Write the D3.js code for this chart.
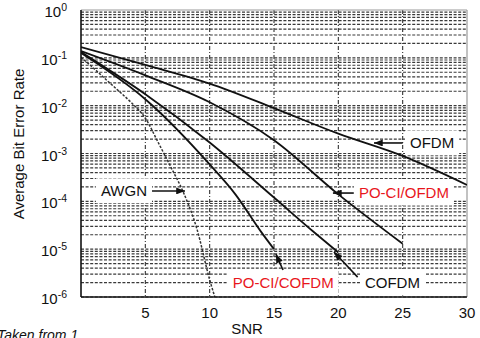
<!DOCTYPE html>
<html>
<head>
<meta charset="utf-8">
<script src="https://cdn.jsdelivr.net/npm/d3@7"></script>
<style>
  html, body { margin: 0; padding: 0; background: #fff; }
  svg { display: block; font-family: "Liberation Sans", Arial, sans-serif; }
</style>
</head>
<body>
<div id="chart"></div>
<script>
// ---- data ----
const snrOFDM = [0, 5, 10, 15, 20, 25, 30];
const berOFDM = [0.168, 0.071, 0.029, 0.0089, 0.0026, 8.9e-4, 2.2e-4];

const snrPOCIOFDM = [0, 5, 10, 15, 20, 25];
const berPOCIOFDM = [0.138, 0.043, 0.0118, 0.0019, 1.4e-4, 1.3e-5];

const snrCOFDM = [0, 5, 10, 15, 18, 20];
const berCOFDM = [0.132, 0.0174, 0.0017, 1.2e-4, 2.4e-5, 8.5e-6];

const snrPOCICOFDM = [0, 5, 10, 12, 14, 15];
const berPOCICOFDM = [0.126, 0.0136, 5.9e-4, 1.4e-4, 2.3e-5, 1.0e-5];

const snrAWGN = [0, 1, 2, 3, 4, 5, 6, 7, 8, 9, 10, 10.4];
const berAWGN = [0.103, 0.060, 0.034, 0.0195, 0.011, 0.0055, 0.0017, 5.1e-4, 1.45e-4, 2.7e-5, 2.3e-6, 1e-6];

const xTicks = [5, 10, 15, 20, 25, 30];
const yDecades = [0, -1, -2, -3, -4, -5, -6];

// annotations: text, colour, text anchor point, arrow tail, arrow tip (snr, ber)
const labels = [
  { text: "OFDM", color: "#111", anchor: "start", at: [25.57, 1.66e-3], tail: [25.0, 1.66e-3], tip: [22.77, 1.66e-3] },
  { text: "AWGN", color: "#111", anchor: "end", at: [5.13, 1.65e-4], tail: [5.52, 1.65e-4], tip: [8.08, 1.65e-4] },
  { text: "PO-CI/OFDM", color: "#e8161c", anchor: "start", at: [21.6, 1.49e-4], tail: [21.2, 1.49e-4], tip: [19.58, 1.49e-4] },
  { text: "PO-CI/COFDM", color: "#e8161c", anchor: "start", at: [11.8, 1.96e-6], tail: [15.7, 3.66e-6], tip: [15.15, 7.9e-6] },
  { text: "COFDM", color: "#111", anchor: "start", at: [22.07, 1.96e-6], tail: [21.5, 2.6e-6], tip: [19.66, 8.7e-6] }
];

const solidSeries = [
  [snrOFDM, berOFDM],
  [snrPOCIOFDM, berPOCIOFDM],
  [snrCOFDM, berCOFDM],
  [snrPOCICOFDM, berPOCICOFDM]
];

// ---- layout ----
const width = 480, height = 338;
const svg = d3.select("#chart").append("svg")
  .attr("width", width)
  .attr("height", height);

const x = d3.scaleLinear().domain([0, 30]).range([81, 467]);
const y = d3.scaleLog().domain([1e-6, 1]).range([297, 10]);

const defs = svg.append("defs");
defs.append("clipPath").attr("id", "plotclip")
  .append("rect")
  .attr("x", x(0)).attr("y", y(1))
  .attr("width", x(30) - x(0)).attr("height", y(1e-6) - y(1));
defs.append("marker")
  .attr("id", "arrow")
  .attr("viewBox", "0 0 10 8")
  .attr("refX", 10).attr("refY", 4)
  .attr("markerWidth", 10).attr("markerHeight", 7)
  .attr("markerUnits", "userSpaceOnUse")
  .attr("orient", "auto")
  .append("path")
  .attr("d", "M0,0 L10,4 L0,8 Z")
  .attr("fill", "#111");

// ---- grid ----
const grid = svg.append("g");
const minorVals = [];
for (let e = -6; e < 0; e++) {
  for (let m = 1; m <= 9; m++) minorVals.push(m * Math.pow(10, e));
}
grid.selectAll("line.h")
  .data(minorVals)
  .enter().append("line")
  .attr("class", "h")
  .attr("x1", x(0)).attr("x2", x(30))
  .attr("y1", d => y(d)).attr("y2", d => y(d))
  .attr("stroke", "#3a3a3a")
  .attr("stroke-width", 1.2)
  .attr("stroke-dasharray", "3,1.6");

grid.selectAll("line.v")
  .data(xTicks.filter(d => d < 30))
  .enter().append("line")
  .attr("class", "v")
  .attr("x1", d => x(d)).attr("x2", d => x(d))
  .attr("y1", y(1)).attr("y2", y(1e-6))
  .attr("stroke", "#333")
  .attr("stroke-width", 1.1)
  .attr("stroke-dasharray", "4,2,1,2");

// ---- frame ----
svg.append("line").attr("x1", x(0)).attr("x2", x(30)).attr("y1", y(1)).attr("y2", y(1))
  .attr("stroke", "#999").attr("stroke-width", 1.2);
svg.append("line").attr("x1", x(30)).attr("x2", x(30)).attr("y1", y(1)).attr("y2", y(1e-6))
  .attr("stroke", "#999").attr("stroke-width", 1.2);

// ---- label boxes (white) ----
const labelLayer = svg.append("g");

// ---- curves ----
const plot = svg.append("g").attr("clip-path", "url(#plotclip)");
const line = d3.line()
  .x(d => x(d[0]))
  .y(d => y(d[1]))
  .curve(d3.curveMonotoneX);

plot.selectAll("path.solid")
  .data(solidSeries.map(([s, b]) => s.map((v, i) => [v, b[i]])))
  .enter().append("path")
  .attr("class", "solid")
  .attr("d", line)
  .attr("fill", "none")
  .attr("stroke", "#111")
  .attr("stroke-width", 1.8);

plot.append("path")
  .datum(snrAWGN.map((v, i) => [v, berAWGN[i]]))
  .attr("d", line)
  .attr("fill", "none")
  .attr("stroke", "#333")
  .attr("stroke-width", 1.5)
  .attr("stroke-dasharray", "2.5,1.5");

// left and bottom axis lines
svg.append("line").attr("x1", x(0)).attr("x2", x(0)).attr("y1", y(1)).attr("y2", y(1e-6))
  .attr("stroke", "#111").attr("stroke-width", 1.6);
svg.append("line").attr("x1", x(0)).attr("x2", x(30)).attr("y1", y(1e-6)).attr("y2", y(1e-6))
  .attr("stroke", "#111").attr("stroke-width", 1.6);

// ---- annotations ----
labels.forEach(l => {
  const t = labelLayer.append("text")
    .attr("x", x(l.at[0]))
    .attr("y", y(l.at[1]))
    .attr("dy", "0.36em")
    .attr("text-anchor", l.anchor)
    .attr("font-size", 15)
    .attr("fill", l.color)
    .text(l.text);
  const bb = t.node().getBBox();
  labelLayer.insert("rect", "text")
    .attr("x", bb.x - 5).attr("y", bb.y - 4)
    .attr("width", bb.width + 10).attr("height", bb.height + 8)
    .attr("fill", "#fff");
  svg.append("line")
    .attr("x1", x(l.tail[0])).attr("y1", y(l.tail[1]))
    .attr("x2", x(l.tip[0])).attr("y2", y(l.tip[1]))
    .attr("stroke", "#111")
    .attr("stroke-width", 1.6)
    .attr("marker-end", "url(#arrow)");
});
labelLayer.raise();
labelLayer.selectAll("rect").lower();
svg.selectAll("line[marker-end]").raise();

// ---- tick labels ----
svg.append("g").selectAll("text")
  .data(xTicks)
  .enter().append("text")
  .attr("x", d => x(d))
  .attr("y", 318)
  .attr("text-anchor", "middle")
  .attr("font-size", 15)
  .attr("fill", "#111")
  .text(d => d);

const yt = svg.append("g").selectAll("text")
  .data(yDecades)
  .enter().append("text")
  .attr("x", 67)
  .attr("y", d => y(Math.pow(10, d)) + 7)
  .attr("text-anchor", "end")
  .attr("font-size", 15)
  .attr("fill", "#111");
yt.append("tspan").text("10");
yt.append("tspan")
  .attr("dy", -6)
  .attr("font-size", 10.5)
  .text(d => d);

// ---- axis titles ----
svg.append("text")
  .attr("x", 247).attr("y", 334)
  .attr("text-anchor", "middle")
  .attr("font-size", 15)
  .attr("fill", "#111")
  .text("SNR");

svg.append("text")
  .attr("transform", "translate(24,144) rotate(-90)")
  .attr("text-anchor", "middle")
  .attr("font-size", 15)
  .attr("fill", "#111")
  .text("Average Bit Error Rate");

svg.append("text")
  .attr("x", -3).attr("y", 340)
  .attr("font-size", 14)
  .attr("font-style", "italic")
  .attr("fill", "#111")
  .text("Taken from 1");
</script>
</body>
</html>
